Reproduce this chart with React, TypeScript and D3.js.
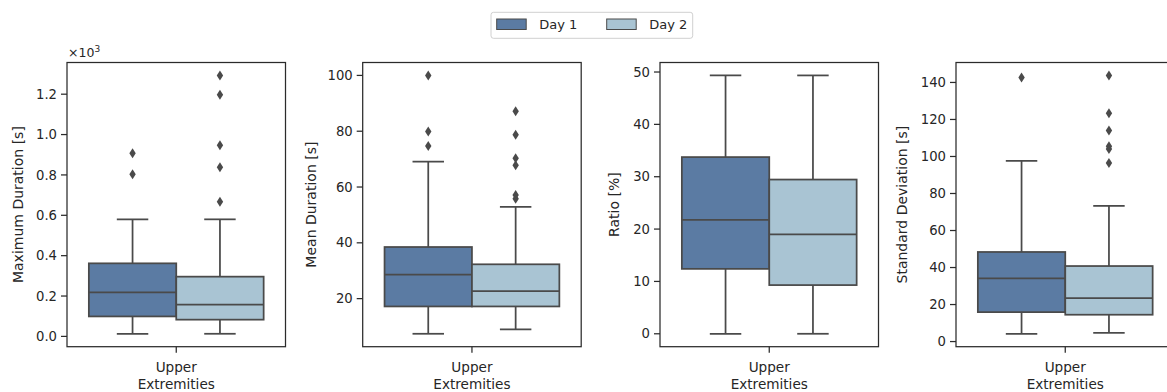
import React from "react";
import * as d3 from "d3";

// ---- data ----
const days = ["Day 1", "Day 2"];
const category = ["Upper", "Extremities"];
const metricNames = ["Maximum Duration [s]", "Mean Duration [s]", "Ratio [%]", "Standard Deviation [s]"];

// [whiskerLow, q1, median, q3, whiskerHigh]
const maxDurDay1 = [0.013, 0.099, 0.218, 0.362, 0.58];
const maxDurDay2 = [0.013, 0.083, 0.157, 0.296, 0.58];
const maxDurOut1 = [0.907, 0.803];
const maxDurOut2 = [1.293, 1.197, 0.947, 0.838, 0.667];

const meanDurDay1 = [7.4, 17.2, 28.6, 38.5, 69.1];
const meanDurDay2 = [9.0, 17.2, 22.7, 32.3, 52.9];
const meanDurOut1 = [100.0, 79.9, 74.7];
const meanDurOut2 = [87.2, 78.7, 70.3, 67.8, 57.1, 55.8];

const ratioDay1 = [0, 12.4, 21.75, 33.75, 49.35];
const ratioDay2 = [0, 9.3, 19.0, 29.46, 49.35];
const ratioOut1: number[] = [];
const ratioOut2: number[] = [];

const sdDay1 = [4.2, 15.9, 34.1, 48.4, 97.6];
const sdDay2 = [4.7, 14.5, 23.5, 40.8, 73.3];
const sdOut1 = [142.7];
const sdOut2 = [143.8, 123.4, 114.0, 105.5, 104.0, 96.5];

const maxDurTicks = [0, 0.2, 0.4, 0.6, 0.8, 1.0, 1.2];
const meanDurTicks = [20, 40, 60, 80, 100];
const ratioTicks = [0, 10, 20, 30, 40, 50];
const sdTicks = [0, 20, 40, 60, 80, 100, 120, 140];

// ---- styling / layout ----
const W = 1167;
const H = 392;
const COLORS = ["#5b7ba3", "#a9c4d3"];
const LINE = "#4a4a4a";
const FONT = "DejaVu Sans";
const TOP = 62.5;
const BOTTOM = 346.7;
const AXW = 218.5;

const panels = [
  { left: 67, label: metricNames[0], stats: [maxDurDay1, maxDurDay2], outs: [maxDurOut1, maxDurOut2], ticks: maxDurTicks, fmt: (v: number) => v.toFixed(1), labelOff: 44.3, exp: true },
  { left: 362.7, label: metricNames[1], stats: [meanDurDay1, meanDurDay2], outs: [meanDurOut1, meanDurOut2], ticks: meanDurTicks, fmt: (v: number) => String(v), labelOff: 46.7, exp: false },
  { left: 660, label: metricNames[2], stats: [ratioDay1, ratioDay2], outs: [ratioOut1, ratioOut2], ticks: ratioTicks, fmt: (v: number) => String(v), labelOff: 41, exp: false },
  { left: 956, label: metricNames[3], stats: [sdDay1, sdDay2], outs: [sdOut1, sdOut2], ticks: sdTicks, fmt: (v: number) => String(v), labelOff: 49, exp: false },
];

function Panel({ p }: { p: typeof panels[number] }) {
  const all = [...p.stats[0], ...p.stats[1], ...p.outs[0], ...p.outs[1]];
  const mn = d3.min(all)!;
  const mx = d3.max(all)!;
  const pad = (mx - mn) * 0.05;
  const y = d3.scaleLinear().domain([mn - pad, mx + pad]).range([BOTTOM, TOP]);
  const right = p.left + AXW;
  const xCat = d3.scaleBand().domain(["c"]).range([p.left, right]);
  const cx = xCat("c")! + xCat.bandwidth() / 2;
  const x = d3
    .scaleBand()
    .domain(days)
    .range([p.left + AXW * 0.1, right - AXW * 0.1])
    .padding(0);
  const bw = x.bandwidth();
  const capHalf = bw * 0.18;
  const diamond = (px: number, py: number) =>
    `M${px},${py - 5}L${px + 3.2},${py}L${px},${py + 5}L${px - 3.2},${py}Z`;
  const midY = (TOP + BOTTOM) / 2;
  return (
    <g>
      {p.stats.map((s, i) => {
        const x0 = x(days[i])!;
        const xc = x0 + bw / 2;
        return (
          <g key={i}>
            <line x1={xc} x2={xc} y1={y(s[0])} y2={y(s[1])} stroke={LINE} strokeWidth={1.75} />
            <line x1={xc} x2={xc} y1={y(s[3])} y2={y(s[4])} stroke={LINE} strokeWidth={1.75} />
            <line x1={xc - capHalf} x2={xc + capHalf} y1={y(s[0])} y2={y(s[0])} stroke={LINE} strokeWidth={1.75} />
            <line x1={xc - capHalf} x2={xc + capHalf} y1={y(s[4])} y2={y(s[4])} stroke={LINE} strokeWidth={1.75} />
            <rect x={x0} y={y(s[3])} width={bw} height={y(s[1]) - y(s[3])} fill={COLORS[i]} stroke={LINE} strokeWidth={1.75} />
            <line x1={x0} x2={x0 + bw} y1={y(s[2])} y2={y(s[2])} stroke={LINE} strokeWidth={1.75} />
            {p.outs[i].map((o, j) => (
              <path key={j} d={diamond(xc, y(o))} fill={LINE} />
            ))}
          </g>
        );
      })}
      <rect x={p.left} y={TOP} width={AXW} height={BOTTOM - TOP} fill="none" stroke="#2b2b2b" strokeWidth={1.25} />
      {p.ticks.map((t) => (
        <g key={t}>
          <line x1={p.left - 6} x2={p.left} y1={y(t)} y2={y(t)} stroke="#2b2b2b" strokeWidth={1.25} />
          <text x={p.left - 10} y={y(t)} dy="0.35em" textAnchor="end" fontSize={13.2} fill="#262626" fontFamily={FONT}>
            {p.fmt(t)}
          </text>
        </g>
      ))}
      <line x1={cx} x2={cx} y1={BOTTOM} y2={BOTTOM + 6} stroke="#2b2b2b" strokeWidth={1.25} />
      <text x={cx} y={372} textAnchor="middle" fontSize={13.6} fill="#262626" fontFamily={FONT}>
        {category[0]}
      </text>
      <text x={cx} y={388.5} textAnchor="middle" fontSize={13.6} fill="#262626" fontFamily={FONT}>
        {category[1]}
      </text>
      <text
        transform={`translate(${p.left - p.labelOff},${midY}) rotate(-90)`}
        textAnchor="middle"
        fontSize={14}
        fill="#262626"
        fontFamily={FONT}
      >
        {p.label}
      </text>
      {p.exp && (
        <text x={p.left + 1} y={56.5} fontSize={12.5} fill="#262626" fontFamily={FONT}>
          ×10<tspan dy={-5} fontSize={9}>3</tspan>
        </text>
      )}
    </g>
  );
}

export default function App() {
  return (
    <svg width={W} height={H} style={{ position: "absolute", left: 0, top: 0, background: "#fff" }}>
      {panels.map((p, i) => (
        <Panel key={i} p={p} />
      ))}
      <g>
        <rect x={491} y={12.3} width={201.7} height={26} rx={2.5} fill="#fff" stroke="#d0d0d0" strokeWidth={1} />
        {days.map((d, i) => (
          <g key={d} transform={`translate(${496.7 + i * 110},0)`}>
            <rect x={0} y={19} width={29.5} height={10.5} fill={COLORS[i]} stroke={LINE} strokeWidth={1} />
            <text x={42.6} y={28.8} fontSize={13} fill="#262626" fontFamily={FONT}>
              {d}
            </text>
          </g>
        ))}
      </g>
    </svg>
  );
}
